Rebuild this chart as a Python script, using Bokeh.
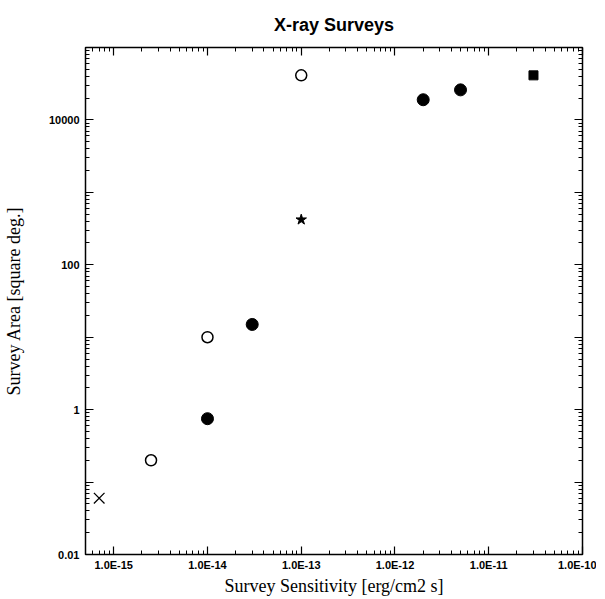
from bokeh.plotting import figure
from bokeh.models import Range1d, FixedTicker, LogAxis, CustomJSTickFormatter
from bokeh.embed import file_html
from bokeh.resources import INLINE

# ---- data ----
cross_x = [7e-16]
cross_y = [0.06]
open_x = [2.5e-15, 1e-14, 1e-13]
open_y = [0.2, 10, 41253]
filled_x = [1e-14, 3e-14, 2e-12, 5e-12]
filled_y = [0.75, 15, 19000, 26000]
star_x = [1e-13]
star_y = [420]
square_x = [3e-11]
square_y = [41253]

x_tick_vals = [1e-15, 1e-14, 1e-13, 1e-12, 1e-11, 1e-10]
x_tick_labels = ["1.0E-15", "1.0E-14", "1.0E-13", "1.0E-12", "1.0E-11", "1.0E-10"]
y_tick_vals = [0.01, 1, 100, 10000]
y_tick_labels = ["0.01", "1", "100", "10000"]

x_major = [10.0 ** e for e in range(-16, -9)]
x_minor = [m * 10.0 ** e for e in range(-16, -10) for m in range(2, 10)]
y_major = [10.0 ** e for e in range(-2, 6)]
y_minor = [m * 10.0 ** e for e in range(-2, 5) for m in range(2, 10)]

CODE = ("const i = vals.findIndex(v => Math.abs(Math.log10(v) - Math.log10(tick)) < 1e-6);"
        "return i >= 0 ? labs[i] : '';")

p = figure(width=596, height=599, x_axis_type="log", y_axis_type="log",
           x_range=Range1d(5e-16, 1e-10), y_range=Range1d(0.01, 1e5),
           output_backend="svg", toolbar_location=None,
           min_border_left=78, min_border_right=14, min_border_top=47, min_border_bottom=45)

p.background_fill_color = "white"
p.border_fill_color = "white"
p.outline_line_color = "black"
p.outline_line_width = 1.5
p.grid.visible = False

bottom = p.below[0]
left = p.left[0]

xt = FixedTicker(ticks=x_major, minor_ticks=x_minor)
yt = FixedTicker(ticks=y_major, minor_ticks=y_minor)
bottom.ticker = xt
left.ticker = yt
bottom.formatter = CustomJSTickFormatter(args=dict(vals=x_tick_vals, labs=x_tick_labels), code=CODE)
left.formatter = CustomJSTickFormatter(args=dict(vals=y_tick_vals, labs=y_tick_labels), code=CODE)

top = LogAxis(ticker=xt, major_label_text_font_size="1px", major_label_text_color=None,
              major_label_standoff=0)
right = LogAxis(ticker=yt, major_label_text_font_size="1px", major_label_text_color=None,
                major_label_standoff=0)
p.add_layout(top, "above")
p.add_layout(right, "right")

for ax in [bottom, left, top, right]:
    ax.axis_line_color = None
    ax.major_tick_in = 8
    ax.major_tick_out = 0
    ax.minor_tick_in = 4
    ax.minor_tick_out = 0
    ax.major_tick_line_color = "black"
    ax.minor_tick_line_color = "black"
    ax.major_tick_line_width = 1.2
    ax.minor_tick_line_width = 1

for ax in [bottom, left]:
    ax.major_label_text_font = "Liberation Sans"
    ax.major_label_text_font_style = "bold"
    ax.major_label_text_font_size = "11px"
    ax.major_label_text_color = "black"
    ax.major_label_standoff = 6
    ax.axis_label_text_font = "Liberation Serif"
    ax.axis_label_text_font_style = "normal"
    ax.axis_label_text_font_size = "18px"
    ax.axis_label_text_color = "black"

bottom.major_label_standoff = 4
bottom.axis_label = "Survey Sensitivity [erg/cm2 s]"
bottom.axis_label_standoff = 2
left.axis_label = "Survey Area [square deg.]"
left.axis_label_standoff = 22

p.title.text = "X-ray Surveys"
p.title.align = "center"
p.title.vertical_align = "top"
p.title.text_font = "Liberation Sans"
p.title.text_font_size = "18px"
p.title.text_font_style = "bold"
p.title.text_color = "black"
p.title.standoff = 22

p.scatter(cross_x, cross_y, marker="x", size=15, line_color="black", line_width=1.3)
p.scatter(open_x, open_y, marker="circle", size=11, fill_color="white", line_color="black", line_width=1.5)
p.scatter(filled_x, filled_y, marker="circle", size=12, fill_color="black", line_color="black")
p.scatter(star_x, star_y, marker="star", size=11, fill_color="black", line_color="black")
p.scatter(square_x, square_y, marker="square", size=9, fill_color="black", line_color="black")

open("out.html", "w").write(file_html(p, INLINE))
